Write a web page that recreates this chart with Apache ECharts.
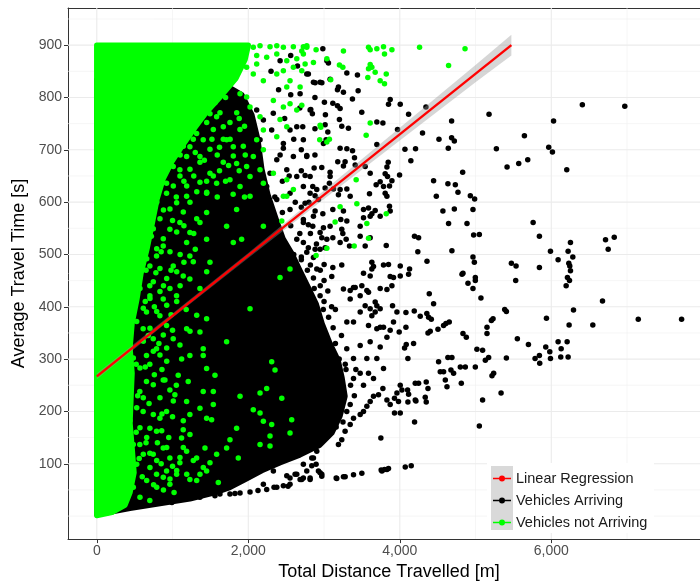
<!DOCTYPE html>
<html><head><meta charset="utf-8">
<script src="https://cdn.jsdelivr.net/npm/echarts@6/dist/echarts.min.js"></script>
<style>html,body{margin:0;padding:0;background:#fff}#c{width:700px;height:586px}</style>
</head><body><div id="c"></div>
<script>
// ---- axis ticks / grid values ----
const xTicks = [0, 2000, 4000, 6000];
const yTicks = [100, 200, 300, 400, 500, 600, 700, 800, 900];
const xGridMinor = [1000, 3000, 5000, 7000];
const yGridMinor = [0, 50, 150, 250, 350, 450, 550, 650, 750, 850, 950];

// ---- linear regression + confidence band ----
const regressionX = [0, 5473];
const regressionY = [267, 900];
const bandX = [0, 1000, 2000, 3000, 4000, 5000, 5473];
const bandLow = [261, 379, 493, 606, 718, 829, 880];
const bandHigh = [273, 387, 503, 622, 742, 862, 920];

// ---- envelope of the saturated (fully overplotted) point clouds ----
const arrivingDense = [[0,834],[1362,834],[1690,824],[1915,805],[2046,767],[2125,720],[2178,663],[2257,615],[2365,568],[2458,530],[2577,501],[2682,469],[2788,438],[2894,406],[2973,368],[3078,330],[3184,298],[3237,264],[3276,229],[3210,191],[3104,159],[2946,136],[2682,117],[2418,102],[2180,87],[1956,70],[1758,55],[1560,45],[1230,33],[834,24],[438,15],[0,3]];
const notArrivingDense = [[0,900],[2000,900],[1956,872],[1838,837],[1653,805],[1453,773],[1292,742],[1138,710],[993,678],[874,644],[795,606],[729,558],[663,511],[583,464],[531,416],[465,368],[438,321],[465,273],[451,226],[438,178],[465,131],[491,83],[438,45],[372,21],[201,7],[0,1]];

// ---- individual points: Vehicles Arriving ----
const arrivingPoints = [
[6410,786],[6970,783],[6030,755],[5645,727],[5966,705],[6015,696],[5416,667],[5570,674],[5689,681],[6204,662],[5760,561],[5843,535],[6253,523],[5989,506],[6222,506],[6284,495],[6090,490],[6231,483],[6244,478],[6253,469],[6213,456],[6240,450],[6196,440],[6716,528],[6831,533],[6751,510],[5473,483],[5535,478],[5843,475],[5530,450],[6676,411],[5385,395],[5407,391],[6293,394],[5936,378],[7148,376],[7720,376],[6235,365],[6548,365],[5552,339],[5698,328],[5927,323],[5980,314],[6130,320],[6090,333],[6209,333],[5407,302],[5786,301],[5843,307],[5847,292],[5989,301],[6125,304],[6222,304],
[2984,893],[3058,866],[3301,847],[3441,843],[2882,828],[2971,828],[3177,815],[3256,810],[3450,813],[3375,797],[3005,791],[3116,789],[3212,779],[3177,784],[3873,796],[3851,787],[4006,787],[3498,772],[2825,777],[2846,769],[3018,767],[4116,768],[4345,782],[5178,768],[3203,758],[3322,741],[3234,745],[3697,753],[3777,751],[4684,755],[3014,748],[3050,734],[2719,744],[3970,739],[4300,732],[4517,720],[4684,723],[4720,717],[2992,712],[3027,719],[3697,710],[3212,703],[3301,702],[3376,698],[4068,701],[4208,702],[4640,703],[5275,702],[2772,689],[3402,685],[4146,679],[3181,677],[3278,677],[3256,669],[3543,668],[3411,671],[2869,665],[2970,666],[3847,676],[3830,667],[2750,651],[3080,657],[3080,649],[3609,655],[3807,654],[3838,649],[3896,641],[3997,652],[4830,657],[4446,641],[4635,635],[4733,633],[2851,630],[2904,624],[2816,617],[2882,612],[2926,605],[3071,636],[3014,627],[3124,625],[3212,624],[3301,625],[3190,614],[3345,611],[3688,633],[3785,630],[3741,639],[3864,631],[3807,617],[3600,616],[4768,619],[4482,611],[4931,612],[4988,606],[2750,598],[2882,583],[2984,578],[3116,586],[3256,583],[3221,567],[3301,564],[3521,586],[3587,589],[3632,578],[3675,584],[3741,573],[3521,570],[3477,554],[3609,573],[3864,592],[3873,583],[3830,611],[4569,583],[4720,587],[4966,586],[4644,559],[4887,559],[2727,567],[2793,557],[2851,554],[3080,554],[2992,551],[2970,532],[3037,529],[3116,532],[3234,548],[3248,540],[3212,523],[3292,529],[3336,516],[3477,535],[3543,516],[3609,532],[3821,517],[4194,535],[4248,532],[4975,537],[5050,538],[2727,523],[2793,513],[2772,504],[2882,510],[2860,494],[2948,510],[3014,513],[4688,507],[4966,495],[4238,505],[3001,481],[3116,475],[3234,480],[3631,485],[3653,477],[3785,480],[3851,481],[4006,478],[4129,472],[4359,487],[4834,464],[4997,456],[3873,458],[3917,456],[4006,459],[3521,464],[3609,459],[3102,458],
[4984,485],[4821,462],[4900,445],[4966,435],[4997,450],[5071,417],[4389,425],[4446,406],[4357,387],[4416,376],[4380,380],[4081,389],[4191,392],[4270,382],[4609,368],[4653,371],[4578,364],[4504,357],[4372,350],[4402,353],[4834,349],[4878,342],[5151,361],[5151,349],[5231,377],[5209,374],[5018,319],[5093,317],[4635,303],[4688,303],[4512,295],[4997,285],[5129,298],[5173,303],[5217,268],[5239,273],[5337,235],[5093,222],[5050,172],[4799,285],[4865,285],[4812,254],[4601,260],[4623,247],[4675,279],[4710,273],[4578,276],[4534,276],[4336,227],[4349,218],[4195,180],[4204,222],[4107,218],[4006,197],[3930,197],[3750,149],[3904,402],[3962,390],[4081,361],[3992,352],[4085,328],[4063,321],[4107,301],[4182,330],[4349,256],[4372,244],[4248,254],[4204,254],[4103,241],[4116,233],[4213,220],[4006,250],[4028,241],[3962,235],[3930,225],[3983,219],[3830,222],[3873,213],[3777,244],[3719,232],[3653,229],[3609,219],[3565,210],[3521,200],[3477,194],[3389,187],[3345,175],[3278,162],[3234,146],[3190,137],[4116,462],[3631,472],[3741,435],[3830,433],[3896,440],[3917,371],[3873,355],[3830,342],[3741,361],[3697,402],[3609,396],[3675,390],[3565,431],[3477,421],[3345,415],[3389,437],
[3256,434],[3345,431],[3411,437],[3499,440],[3587,428],[3675,409],[3741,396],[3631,383],[3543,402],[3477,390],[3389,371],[3301,371],[3587,364],[3697,358],[3785,361],[3609,333],[3741,323],[3477,326],[3389,301],[3565,301],[3697,301],[3785,282],[3587,273],[3653,263],[3477,273],[3389,263],[3521,250],[3256,232],[3345,213],
[3150,330],[3230,345],[3300,320],[3280,290],[3350,250],[3300,200],[3250,180],[3160,170],[3050,155],[3400,230],[3420,280],[3150,395],[3060,380],[3000,410],[2950,440],[2860,455],[2780,470],[2700,490],[3120,230],[3200,260],
[2300,850],[2420,870],[2560,880],[2650,860],[2400,815],[2560,805],[2680,780],[2880,800],[2330,770],[2480,760],[2600,720],[2700,700],[2880,740],[2420,690],[2540,650],[2700,660],[2880,690],[2350,610],[2450,640],[2620,600],[2700,590],[2800,600],[2450,580],[2560,555],[2680,540],[2820,540],[2900,520],[2600,500],[2700,495],[2820,480],[2950,470],[2750,440],[2870,435],[3000,450],[3050,430],[2990,395],[3100,400],[3120,360],[3200,300],[3290,280],
[2376,605],[2551,586],[2727,561],[2860,573],[2640,529],[2948,542],[2904,472],[2727,453],[2948,421],[2816,415],[2772,845],[2860,829],[2684,807],[2816,776],[2640,744],[2551,738],[2727,719],[2463,712],[2595,687],[2772,687],[2376,681],[2287,655],[2508,662],[2640,649],[2816,649],[2243,630],[2551,617],[2727,630],[2111,776],[2199,757],[2309,738],[2155,719],[2463,703],[2793,845],[2948,829],[3080,835],[3037,870],[3190,820],
[1758,42],[2023,46],[2243,51],[2463,58],[2551,73],[2618,80],[2706,70],[2816,70],[2948,83],[2970,76],[3168,72],[3279,75],[3389,79],[3499,82],[3764,86],[3830,89],[4072,94],[4151,96],[991,26],[1362,36],[1560,39],[1824,43],[1891,44],[2128,49],[2340,55],[2525,57],[2331,86],[2508,77],[2640,80],[2727,99],[2838,111],[2904,124],[2551,61],[2376,55],[2199,61],[1626,42],[2816,149],[2948,168],[3160,73],[3256,75],[3754,88],[3798,89],[3851,91],[2860,111],[2895,99],[2838,96],[2772,86],[2727,73],[2684,70],[2926,86],[2970,80],[2816,73]
];

// ---- individual points: Vehicles not Arriving ----
const notArrivingPoints = [
[2727,897],[2772,896],[2706,889],[2895,891],[3256,889],[3587,896],[3609,891],[3697,893],[3785,897],[3798,883],[3896,891],[4261,896],[4861,893],[2860,867],[3037,874],[2750,864],[2706,851],[3203,862],[3248,858],[3609,863],[3631,858],[3587,855],[4644,861],[3675,848],[3821,845],[3578,838],[3741,832],[3798,826],[3088,834],[2684,820],[2706,785],[3609,751],[2948,747],[2957,743],[3556,728],[2943,719],[3071,720],[3037,715],[3424,643],[3433,597],[3212,591],[3821,578],[3146,562],[3565,559],[3587,531],[3398,516],[3037,512],[2895,498],
[2066,896],[2155,899],[2287,897],[2376,899],[2463,896],[2595,897],[2772,899],[2111,880],[2243,877],[2376,883],[2508,870],[2640,874],[2727,883],[2595,858],[2463,851],[1978,858],[2066,845],[2199,832],[2376,845],[2551,832],[2508,820],[2111,864],[2331,794],[2463,782],[2551,788],[2640,776],[2419,758],[2508,744],[2376,725],[2199,738],[2155,763],[2023,782],[1978,801],[1891,807],[2111,719],[2199,700],[2066,687],[1978,668],[1846,674],[1802,706],[1714,719],[1670,744],[1582,763],[1494,769],[1405,719],[1318,731],[1229,706],[1186,687],[1097,662],[1009,668],[921,636],[833,630],[1362,687],[1494,655],[1582,636],[1758,643],[1891,630],[2023,649],[2155,662],[2199,636],[2331,655],[2508,643],[2595,624],[2463,611],
[921,617],[1054,599],[1186,611],[1450,617],[1450,580],[1362,561],[1229,542],[1097,561],[965,548],[877,516],[789,497],[701,478],[1009,478],[1186,523],[1229,497],[1141,459],[1229,453],[1053,421],[877,415],[833,383],[656,390],[701,421],[612,358],[745,339],[921,364],[1009,339],[789,320],[656,307],[1450,529],[1494,485],[1714,554],[1846,586],[1802,523],[1912,529],[2023,611],[2199,554],[2442,564],[2508,611],[2551,472],[2419,456],[2023,396],[1450,377],[1362,352],[1229,307],[1405,320],[1714,333],[1186,358],
[877,260],[965,241],[1207,257],[1075,269],[1031,232],[921,200],[1186,219],[1229,194],[1141,165],[1119,149],[1186,124],[1097,102],[1318,111],[1362,80],[1229,70],[1450,86],[1494,102],[1582,118],[1428,130],[1450,187],[1516,184],[1538,213],[1362,206],[1405,238],[1538,238],[1560,269],[1450,282],[1405,307],[833,187],[789,162],[877,130],[965,111],[701,168],[745,118],[921,86],[1054,80],[965,61],[789,80],[568,137],[612,200],[568,238],[656,257],[1891,229],[1846,168],[1758,146],[1714,130],[1868,111],[2066,203],[2155,197],[2199,181],[2309,175],[2287,153],[2155,137],[2287,134],[2442,225],[2573,184],[2551,159],[1604,64],[2155,235],[2243,244],[2309,295],[2353,279],
[482,302],[570,283],[438,251],[614,226],[527,207],[438,182],[570,169],[659,150],[482,137],[614,118],[527,99],[702,93],[791,106],[878,74],[659,68],[482,55],[570,36],[791,55],[966,71],[1055,87],[923,131],[857,163],[746,194],[834,226],[746,251],[923,296],[834,308],[1010,220],[1142,182],[1230,156],[1142,131],[1274,106],[1406,93],[1319,68],[1187,80],[1098,112],
[614,612],[791,600],[659,581],[834,568],[966,587],[746,549],[878,530],[614,524],[791,511],[966,505],[1055,543],[1142,581],[1230,600],[1319,568],[659,492],[834,473],[570,460],[746,448],[923,454],[1055,467],[570,435],[702,416],[834,429],[966,435],[614,397],[791,391],[923,403],[1055,410],[527,372],[702,359],[878,346],[614,334],[746,315],[923,321],[1098,327],[1230,353],[1319,384],[1362,435],[1451,467],[1274,486],
[1230,802],[1362,783],[1142,771],[1319,758],[1451,752],[1230,739],[1055,726],[966,701],[1142,707],[1274,720],[1538,739],[1626,771],[1758,752],[1670,720],[1494,701],[1362,676],[1230,663],[1098,650],[1010,631],[1187,631],[1362,638],[1538,650],[1670,676],[1802,688],[1934,707],[1890,739],[1847,771],[791,631],[878,657],[1451,619],
[1300,790],[1420,800],[1560,790],[1700,800],[1180,760],[1400,765],[1520,720],[1620,705],[1760,720],[1880,760],[1950,745],[1100,690],[1300,695],[1420,680],[1590,690],[1740,670],[1880,660],[1960,690],[1150,640],[1280,650],[1450,640],[1620,660],[1700,640],[1050,610],[1320,620],[1590,610],[1800,615],[1950,610],
[700,590],[880,585],[1000,565],[1150,555],[1280,540],[720,535],[850,505],[1100,500],[1300,510],[650,470],[780,465],[980,470],[1150,485],[700,440],[880,440],[1100,440],[640,410],[760,400],[980,385],[1180,395],[680,345],[820,330],[1000,355],[1120,300],[700,290],[860,280],
[520,290],[640,285],[760,270],[900,260],[1050,250],[540,230],[690,215],[860,195],[1000,190],[520,160],[650,140],[800,140],[950,150],[560,110],[700,120],[850,100],[1000,95],[600,75],[750,60],[880,50],[1020,45],[700,30]
];

const FONT = 'Liberation Sans, Arial, Helvetica, sans-serif';
const BLACK = '#000000', GREEN = '#00ff00', RED = '#ff0000';
const ICON = 'path://M0,2.2 L18,2.2 L18,3.8 L0,3.8 Z M6,3 A3,3 0 1 1 12,3 A3,3 0 1 1 6,3 Z';

function gridSeries(values, dir, width, color) {
  return {
    type: 'custom', silent: true, z: 1, clip: true, animation: false,
    data: values.map(v => dir === 'x' ? [v, 0] : [0, v]),
    renderItem: (params, api) => {
      const r = params.coordSys;
      if (dir === 'x') {
        const x = api.coord([api.value(0), 0])[0];
        return { type: 'line', shape: { x1: x, y1: r.y, x2: x, y2: r.y + r.height }, style: { stroke: color, lineWidth: width } };
      }
      const y = api.coord([0, api.value(1)])[1];
      return { type: 'line', shape: { x1: r.x, y1: y, x2: r.x + r.width, y2: y }, style: { stroke: color, lineWidth: width } };
    }
  };
}
function polygonSeries(name, pts, fill, stroke, lw, z) {
  return {
    type: 'custom', name: name, silent: true, z: z, clip: true, animation: false,
    data: [[0, 0]],
    renderItem: (params, api) => ({
      type: 'polygon',
      shape: { points: pts.map(p => api.coord(p)) },
      style: { fill: fill, stroke: stroke, lineWidth: lw, lineJoin: 'round' }
    })
  };
}
const bandPolygon = bandX.map((x, i) => [x, bandHigh[i]]).concat(bandX.map((x, i) => [x, bandLow[i]]).reverse());

const chart = echarts.init(document.getElementById('c'), null, { renderer: 'canvas' });
chart.setOption({
  animation: false,
  backgroundColor: '#ffffff',
  grid: { left: 68, right: 0, top: 8, bottom: 44, containLabel: false },
  xAxis: [{
    type: 'value', min: -380, max: 7963, position: 'bottom',
    name: 'Total Distance Travelled [m]', nameLocation: 'middle', nameGap: 23,
    nameTextStyle: { fontFamily: FONT, fontSize: 18, color: '#000', padding: [0, 0, 0, 10] },
    axisLine: { show: true, onZero: false, lineStyle: { color: '#333333', width: 1 } },
    axisTick: { show: true, customValues: xTicks, length: 4, lineStyle: { color: '#333333', width: 1 } },
    axisLabel: { customValues: xTicks, margin: 5, fontFamily: FONT, fontSize: 14, color: '#4d4d4d',
      formatter: v => Number(v).toLocaleString('en-US') },
    splitLine: { show: false }
  }, {
    type: 'value', min: -380, max: 7963, position: 'top',
    axisLine: { show: true, onZero: false, lineStyle: { color: '#333333', width: 1 } },
    axisTick: { show: false }, axisLabel: { show: false }, splitLine: { show: false }
  }],
  yAxis: {
    type: 'value', min: -44, max: 971,
    name: 'Average Travel Time [s]', nameLocation: 'middle', nameGap: 34,
    nameTextStyle: { fontFamily: FONT, fontSize: 18, color: '#000' },
    axisLine: { show: true, onZero: false, lineStyle: { color: '#333333', width: 1 } },
    axisTick: { show: true, customValues: yTicks, length: 4, lineStyle: { color: '#333333', width: 1 } },
    axisLabel: { customValues: yTicks, margin: 6, fontFamily: FONT, fontSize: 14, color: '#4d4d4d' },
    splitLine: { show: false }
  },
  legend: {
    orient: 'vertical', left: 493, top: 471, padding: 0, itemWidth: 18, itemHeight: 6, itemGap: 7,
    selectedMode: false, z: 20,
    itemStyle: { borderWidth: 0 },
    textStyle: { fontFamily: FONT, fontSize: 14.5, color: '#1a1a1a' },
    data: [
      { name: 'Linear Regression', icon: ICON, itemStyle: { color: RED, borderWidth: 0 } },
      { name: 'Vehicles Arriving', icon: ICON, itemStyle: { color: BLACK, borderWidth: 0 } },
      { name: 'Vehicles not Arriving', icon: ICON, itemStyle: { color: GREEN, borderWidth: 0 } }
    ]
  },
  graphic: [
    { type: 'rect', left: 487, top: 463, shape: { width: 167, height: 70 }, style: { fill: '#ffffff' }, z: 10, silent: true },
    { type: 'rect', left: 491, top: 466, shape: { width: 22, height: 64 }, style: { fill: '#d9d9d9' }, z: 11, silent: true }
  ],
  series: [
    gridSeries(xGridMinor, 'x', 0.6, '#f0f0f0'),
    gridSeries(yGridMinor, 'y', 0.6, '#f0f0f0'),
    gridSeries(xTicks, 'x', 1.1, '#ebebeb'),
    gridSeries(yTicks, 'y', 1.1, '#ebebeb'),
    polygonSeries('arrivingCore', arrivingDense, BLACK, BLACK, 5.5, 2),
    { type: 'scatter', name: 'Vehicles Arriving', z: 3, symbol: 'circle', symbolSize: 5.5,
      itemStyle: { color: BLACK, borderWidth: 0, opacity: 1 }, data: arrivingPoints },
    polygonSeries('notArrivingCore', notArrivingDense, GREEN, GREEN, 5.5, 4),
    { type: 'scatter', name: 'Vehicles not Arriving', z: 5, symbol: 'circle', symbolSize: 5.5,
      itemStyle: { color: GREEN, borderWidth: 0, opacity: 1 }, data: notArrivingPoints },
    polygonSeries('band', bandPolygon, 'rgba(153,153,153,0.4)', 'none', 0, 6),
    { type: 'line', name: 'Linear Regression', z: 7, showSymbol: false, silent: true,
      lineStyle: { color: RED, width: 2.4 }, itemStyle: { color: RED },
      data: regressionX.map((x, i) => [x, regressionY[i]]) }
  ]
});
</script></body></html>
